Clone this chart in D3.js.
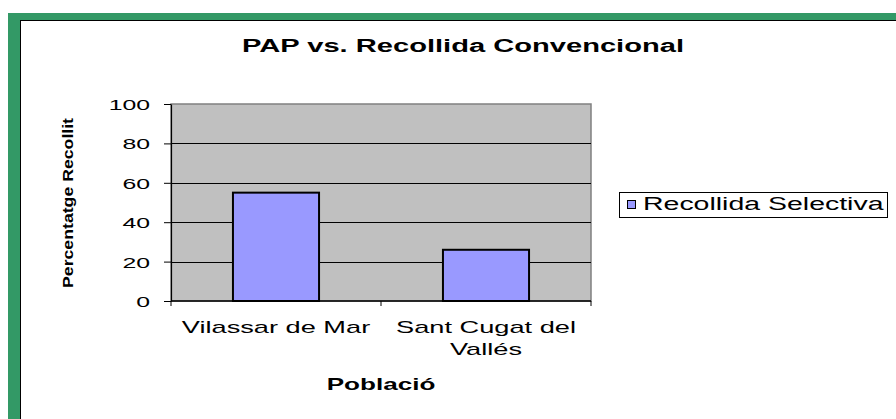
<!DOCTYPE html>
<html>
<head>
<meta charset="utf-8">
<script src="https://cdn.jsdelivr.net/npm/d3@7"></script>
<style>
html,body{margin:0;padding:0;background:#fff;}
svg{display:block;font-family:"Liberation Sans",Arial,sans-serif;}
</style>
</head>
<body>
<script>
// ---- data ----
const categories = [["Vilassar de Mar"], ["Sant Cugat del", "Vallés"]];
const categoryKeys = ["Vilassar de Mar", "Sant Cugat del Vallés"];
const seriesName = "Recollida Selectiva";
const seriesValues = [55, 26];
const yTicks = [0, 20, 40, 60, 80, 100];
const titleText = "PAP vs. Recollida Convencional";
const xTitle = "Població";
const yTitle = "Percentatge Recollit";

const W = 896, H = 419;
const SX = 1.6; // horizontal text stretch of the original picture
const svg = d3.select("body").append("svg").attr("width", W).attr("height", H);

// frame
svg.append("rect").attr("x", 0).attr("y", 0).attr("width", W).attr("height", H).attr("fill", "#fff");
svg.append("rect").attr("x", 8).attr("y", 13).attr("width", W - 8).attr("height", H - 13).attr("fill", "#339966");
svg.append("rect").attr("x", 20).attr("y", 20).attr("width", W - 20).attr("height", H - 20).attr("fill", "#000");
svg.append("rect").attr("x", 21).attr("y", 21).attr("width", W - 21).attr("height", H - 21).attr("fill", "#fff");

const plot = {left: 171, top: 104, right: 591, bottom: 301};
const x = d3.scaleBand().domain(categoryKeys).range([plot.left, plot.right]).padding(0);
const y = d3.scaleLinear().domain([0, 100]).range([plot.bottom, plot.top]);

function stext(parent, tx, ty, str, size, weight, anchor, sx) {
  return parent.append("text")
    .attr("transform", `translate(${tx},${ty}) scale(${sx},1)`)
    .attr("text-anchor", anchor)
    .attr("font-size", size)
    .attr("font-weight", weight)
    .attr("fill", "#000")
    .text(str);
}

// title
stext(svg, 463, 52, titleText, 18.2, "bold", "middle", SX);

// plot area
svg.append("rect")
  .attr("x", plot.left).attr("y", plot.top)
  .attr("width", plot.right - plot.left).attr("height", plot.bottom - plot.top)
  .attr("fill", "#c0c0c0").attr("stroke", "#808080").attr("stroke-width", 1.5);

// gridlines
svg.append("g").selectAll("line").data(yTicks.filter(d => d > 0 && d < 100)).join("line")
  .attr("x1", plot.left).attr("x2", plot.right)
  .attr("y1", d => Math.round(y(d)) + 0.5).attr("y2", d => Math.round(y(d)) + 0.5)
  .attr("stroke", "#000").attr("stroke-width", 1);

// bars
const barFrac = 0.41;
svg.append("g").selectAll("rect").data(seriesValues).join("rect")
  .attr("x", (d, i) => x(categoryKeys[i]) + x.bandwidth() * (1 - barFrac) / 2)
  .attr("y", d => y(d))
  .attr("width", x.bandwidth() * barFrac)
  .attr("height", d => y(0) - y(d))
  .attr("fill", "#9999ff").attr("stroke", "#000").attr("stroke-width", 2);

// y axis
const yAxis = svg.append("g").attr("transform", `translate(${plot.left},0)`)
  .call(d3.axisLeft(y).tickValues(yTicks).tickSize(7).tickSizeOuter(0));
yAxis.select(".domain").attr("stroke", "#000").attr("stroke-width", 1.2);
yAxis.selectAll(".tick line").attr("stroke", "#000");
yAxis.selectAll(".tick text")
  .attr("font-size", 15.5).attr("font-family", "Liberation Sans, Arial, sans-serif")
  .attr("fill", "#000")
  .attr("x", -21 / SX).attr("dy", "0.36em")
  .attr("transform", `scale(${SX},1)`);

// x axis (domain line + boundary ticks)
const xg = svg.append("g");
xg.append("line").attr("x1", plot.left).attr("x2", plot.right)
  .attr("y1", plot.bottom).attr("y2", plot.bottom).attr("stroke", "#000").attr("stroke-width", 1.5);
const bounds = categoryKeys.map(c => x(c)).concat([x.range()[1]]);
xg.selectAll("line.tk").data(bounds).join("line").attr("class", "tk")
  .attr("x1", d => d).attr("x2", d => d)
  .attr("y1", plot.bottom).attr("y2", plot.bottom + 5)
  .attr("stroke", "#000");

// category labels
categories.forEach((lines, i) => {
  const cx = x(categoryKeys[i]) + x.bandwidth() / 2;
  lines.forEach((ln, j) => {
    stext(svg, cx, 333 + j * 22, ln, 17, "normal", "middle", SX);
  });
});

// x title
stext(svg, 381, 390, xTitle, 16.3, "bold", "middle", SX);

// y title (rotated, condensed look)
svg.append("text")
  .attr("transform", `translate(68.5,203) scale(0.72,1) rotate(-90)`)
  .attr("text-anchor", "middle")
  .attr("font-size", 19.5).attr("font-weight", "bold")
  .attr("dy", "0.3em")
  .attr("textLength", 170).attr("lengthAdjust", "spacingAndGlyphs")
  .text(yTitle);

// legend
const lg = svg.append("g");
lg.append("rect").attr("x", 619.5).attr("y", 192.5).attr("width", 268).attr("height", 25)
  .attr("fill", "#fff").attr("stroke", "#000").attr("stroke-width", 1);
lg.append("rect").attr("x", 627.5).attr("y", 200.5).attr("width", 8).attr("height", 8)
  .attr("fill", "#9999ff").attr("stroke", "#000").attr("stroke-width", 1);
stext(lg, 643, 210, seriesName, 17.8, "normal", "start", SX);
</script>
</body>
</html>
